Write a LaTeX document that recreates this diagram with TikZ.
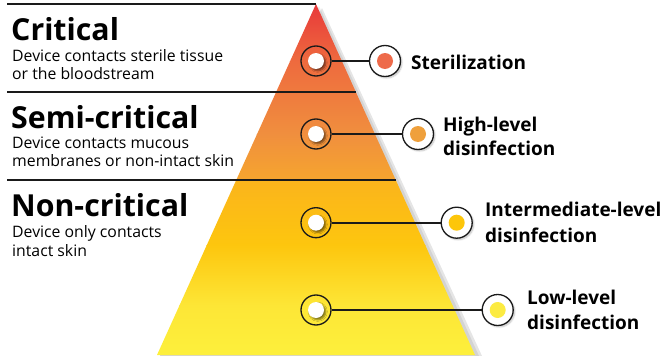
\documentclass[tikz,border=0pt]{standalone}
\usepackage{fontspec}
\setmainfont{Open Sans}
\usetikzlibrary{shadows.blur}
\definecolor{g0}{HTML}{E8383A}
\definecolor{g1}{HTML}{EE6A3E}
\definecolor{g2}{HTML}{F08F3E}
\definecolor{g3}{HTML}{F6A52E}
\definecolor{g4}{HTML}{FBB41C}
\definecolor{g5}{HTML}{FDC60E}
\definecolor{g6}{HTML}{FDE636}
\definecolor{g7}{HTML}{FDF03C}
\definecolor{d1}{HTML}{EE6A4A}
\definecolor{d2}{HTML}{EFA03C}
\definecolor{d3}{HTML}{FDC60A}
\definecolor{d4}{HTML}{FCEB42}
\definecolor{ink}{HTML}{1A1A1A}
\begin{document}
\begin{tikzpicture}[x=1pt,y=-1pt,
  rule/.style={line width=1.6pt, draw=ink},
  ring/.style={circle, draw=ink, line width=1.3pt, minimum size=30pt, inner sep=0pt},
  wdot/.style={circle, fill=white, minimum size=16pt, inner sep=0pt,
     blur shadow={shadow xshift=1.8pt, shadow yshift=-1.8pt, shadow opacity=50, shadow blur steps=5, shadow blur radius=1.5pt}},
  oring/.style={circle, draw=ink, fill=white, line width=1.3pt, minimum size=31pt, inner sep=0pt,
     blur shadow={shadow xshift=1.5pt, shadow yshift=-1.5pt, shadow opacity=25, shadow blur steps=5, shadow blur radius=1.5pt}},
  cdot/.style={circle, minimum size=16pt, inner sep=0pt},
  conn/.style={line width=1.8pt, draw=ink},
  head/.style={anchor=base west, inner sep=0pt, font=\fontsize{30.3}{34}\selectfont\bfseries},
  sub/.style={anchor=base west, inner sep=0pt, font=\fontsize{15.8}{18}\selectfont},
  lab/.style={anchor=base west, inner sep=0pt, font=\fontsize{19}{24}\selectfont\bfseries}]
\useasboundingbox (0,0) rectangle (665,356);

% pyramid shadow
\fill[black, opacity=0.10] (322,8) -- (482,356) -- (160,356) -- cycle;
\fill[black, opacity=0.08] (319,6) -- (479,356) -- (160,356) -- cycle;
% pyramid gradient
\begin{scope}
\clip (316,4) -- (475,355) -- (157,355) -- cycle;
\shade[top color=g0, bottom color=g1] (150,3) rectangle (480,61);
\shade[top color=g1, bottom color=g2] (150,61) rectangle (480,134);
\shade[top color=g2, bottom color=g3] (150,134) rectangle (480,180.5);
\shade[top color=g4, bottom color=g5] (150,180) rectangle (480,245);
\shade[top color=g5, bottom color=g6] (150,245) rectangle (480,305);
\shade[top color=g6, bottom color=g7] (150,305) rectangle (480,357);
\end{scope}

% rules
\coordinate (l1a) at (7,4);   \coordinate (l1b) at (316,4);
\coordinate (l2a) at (7,92);  \coordinate (l2b) at (356,92);
\coordinate (l3a) at (7,180); \coordinate (l3b) at (396,180);
\draw[rule] (l1a) -- (l1b);
\draw[rule] (l2a) -- (l2b);
\draw[rule] (l3a) -- (l3b);

% left texts
\node[head] (h1) at (11,40) {Critical};
\node[sub] (s1a) at (12,61.5) {Device contacts sterile tissue};
\node[sub] (s1b) at (12,79) {or the bloodstream};
\node[head] (h2) at (11,128) {Semi-critical};
\node[sub] (s2a) at (12,148) {Device contacts mucous};
\node[sub] (s2b) at (12,166.5) {membranes or non-intact skin};
\node[head] (h3) at (11,216.5) {Non-critical};
\node[sub] (s3a) at (12,237.5) {Device only contacts};
\node[sub] (s3b) at (12,256) {intact skin};

% pyramid rings
\foreach \n/\yy in {1/61,2/134,3/222.7,4/310}{
  \node[wdot] (w\n) at (316,\yy) {};
  \node[ring] (p\n) at (316,\yy) {};
}
% right rings
\node[oring] (r1) at (385,61) {};
\node[oring] (r2) at (418,134) {};
\node[oring] (r3) at (456.7,222.7) {};
\node[oring] (r4) at (497.7,310) {};
\node[cdot, fill=d1] (c1) at (r1) {};
\node[cdot, fill=d2] (c2) at (r2) {};
\node[cdot, fill=d3] (c3) at (r3) {};
\node[cdot, fill=d4] (c4) at (r4) {};

% connectors
\foreach \n in {1,2,3,4}{ \draw[conn] (p\n) -- (r\n); }

% right labels
\node[lab] (t1) at (411,69) {Sterilization};
\node[lab] (t2a) at (443,131.5) {High-level};
\node[lab] (t2b) at (443,155.5) {disinfection};
\node[lab] (t3a) at (485,216.5) {Intermediate-level};
\node[lab] (t3b) at (485,242) {disinfection};
\node[lab] (t4a) at (527,304) {Low-level};
\node[lab] (t4b) at (527,329) {disinfection};
\end{tikzpicture}
\end{document}
